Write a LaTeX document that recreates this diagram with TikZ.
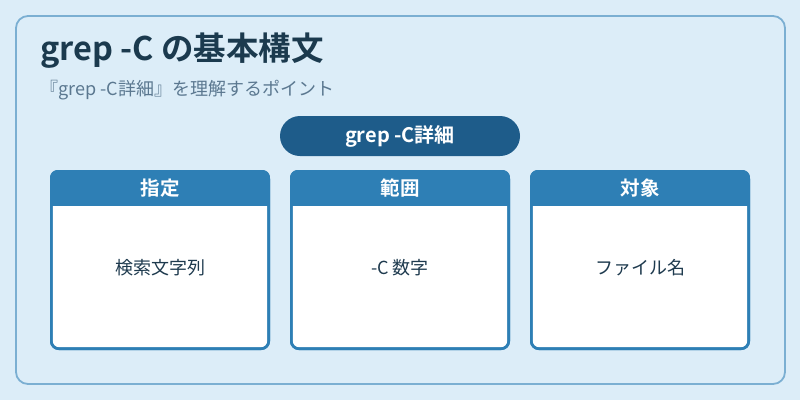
\documentclass[tikz,border=0pt]{standalone}
\usepackage{fontspec}
\setmainfont{Noto Sans CJK JP}[BoldFont={Noto Sans CJK JP Bold}]
\definecolor{bgc}{HTML}{DCEDF8}
\definecolor{framec}{HTML}{7BAFD2}
\definecolor{titlec}{HTML}{1B3A4E}
\definecolor{subc}{HTML}{5B7890}
\definecolor{pillc}{HTML}{1E5C8A}
\definecolor{hdrc}{HTML}{2E7FB5}
\definecolor{bodyc}{HTML}{1E3A4E}
\tikzset{
  frame/.style={draw=framec, line width=1.8pt, fill=bgc, rounded corners=12pt},
  titletext/.style={anchor=base west, inner sep=0pt, text=titlec, font=\fontsize{32.5}{38}\selectfont\bfseries},
  subtext/.style={anchor=base west, inner sep=0pt, text=subc, font=\fontsize{18}{22}\selectfont},
  pill/.style={fill=pillc, text=white, rounded corners=20pt, minimum width=240pt, minimum height=40pt, inner sep=0pt, font=\fontsize{20}{24}\selectfont\bfseries},
  card/.style={draw=hdrc, line width=2.6pt, rounded corners=7.5pt, minimum width=217.4pt, minimum height=177.4pt, inner sep=0pt},
  hdrtext/.style={text=white, inner sep=0pt, font=\fontsize{19.5}{23}\selectfont\bfseries},
  bodytext/.style={text=bodyc, inner sep=0pt, font=\fontsize{18}{22}\selectfont},
}
\begin{document}
\begin{tikzpicture}[x=1pt,y=-1pt]
\fill[bgc] (0,0) rectangle (800,400);
\useasboundingbox (0,0) rectangle (800,400);
\draw[frame] (16,16) rectangle (785,384);
\node[titletext] (title) at (40,60.5) {grep -C の基本構文};
\node[subtext] (sub) at (40,95.5) {『grep -C詳細』を理解するポイント};
\node[pill] (pill) at (400,136) {grep -C詳細};
% cards
\foreach \n/\cx/\hd/\bd in {c1/160/指定/検索文字列, c2/400/範囲/-C 数字, c3/640/対象/ファイル名}{
  \node[card, fill=white] (\n) at (\cx,260) {};
  \begin{scope}
    \clip[rounded corners=7.5pt] (\n.north west) rectangle (\n.south east);
    \fill[hdrc] (\n.north west) rectangle ([yshift=-35.5pt]\n.north east);
  \end{scope}
  \node[card] (\n frame) at (\cx,260) {};
  \node[hdrtext] (\n h) at (\cx,188.5) {\hd};
  \node[bodytext] (\n b) at (\cx,268) {\bd};
}
\end{tikzpicture}
\end{document}
